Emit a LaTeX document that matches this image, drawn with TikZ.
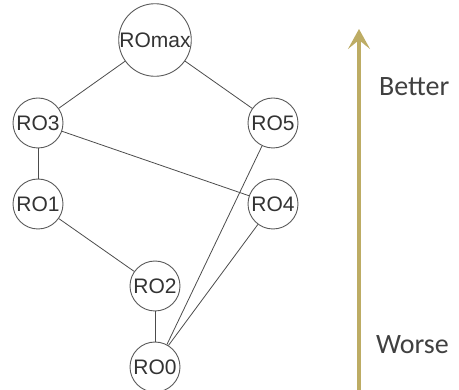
\documentclass[tikz,border=0pt]{standalone}
\usepackage{fontspec}
\setmainfont{Liberation Sans}
\newfontfamily\labelfont{Carlito}
\usetikzlibrary{arrows.meta}
\definecolor{olivearrow}{RGB}{189,172,100}
\begin{document}
\begin{tikzpicture}[x=1pt,y=-1pt,
  ro/.style={circle,draw=black!65,line width=0.9pt,minimum size=50pt,inner sep=0pt,font=\fontsize{21}{21}\selectfont,text=black!80},
  edge/.style={draw=black!70,line width=0.8pt},
  side/.style={font=\labelfont\fontsize{28}{28}\selectfont,anchor=base west,inner sep=0pt,text=black!75}]
\useasboundingbox (0,0) rectangle (459,390);
\node[ro] (romax) at (155,40) {ROmax};
\node[ro] (ro3) at (38,123) {RO3};
\node[ro] (ro5) at (273,123) {RO5};
\node[ro] (ro1) at (38,204) {RO1};
\node[ro] (ro4) at (273,204) {RO4};
\node[ro] (ro2) at (155,286) {RO2};
\node[ro] (ro0) at (155,367) {RO0};
\draw[edge] (romax) -- (ro3);
\draw[edge] (romax) -- (ro5);
\draw[edge] (ro3) -- (ro1);
\draw[edge] (ro3) -- (ro4);
\draw[edge] (ro1) -- (ro2);
\draw[edge] (ro2) -- (ro0);
\draw[edge] (ro0.62) -- (ro5);
\draw[edge] (ro0.58) -- (ro4);
\coordinate (abot) at (359,390);
\coordinate (atop) at (359,29);
\draw[olivearrow,line width=3.2pt,-{Stealth[length=20pt,width=22pt,inset=9pt]}] (abot) -- (atop);
\node[side] (better) at (379,96) {Better};
\node[side] (worse) at (376,354) {Worse};
\end{tikzpicture}
\end{document}
